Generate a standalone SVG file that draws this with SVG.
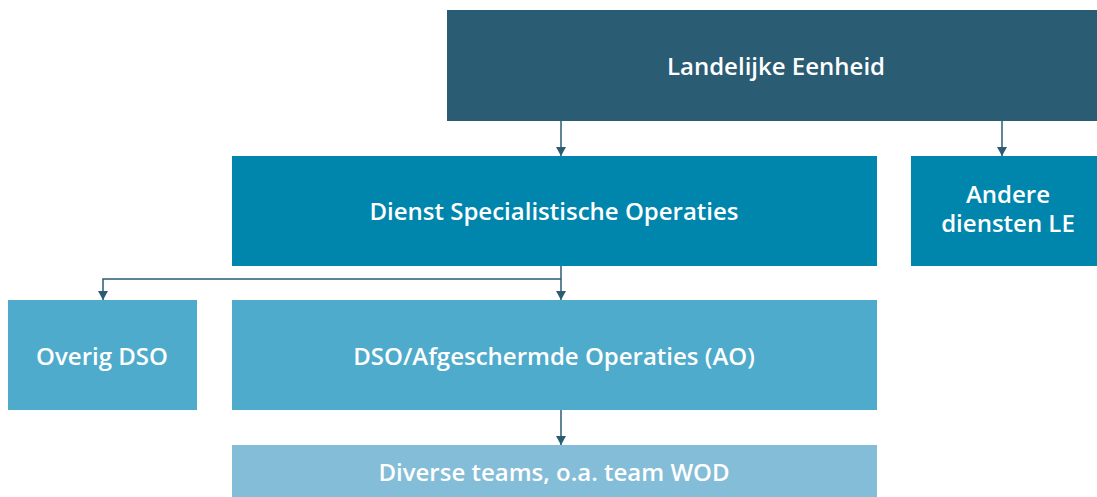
<svg xmlns="http://www.w3.org/2000/svg" width="1097" height="497" viewBox="0 0 1097 497">
<defs>
<marker id="ah" markerWidth="10" markerHeight="10" refX="9" refY="5" orient="auto" markerUnits="userSpaceOnUse" viewBox="0 0 10 10">
<path d="M0,0 L9,5 L0,10 Z" fill="#2a5c74"/>
</marker>
</defs>
<style>
text{font-family:"Open Sans","Noto Sans",sans-serif;font-weight:600;font-size:24px;fill:#ffffff;text-anchor:middle;dominant-baseline:central}
.c{stroke:#2a5c74;stroke-width:1.5;fill:none}
</style>
<rect width="1097" height="497" fill="#ffffff"/>
<g id="le"><rect x="447" y="10" width="650" height="111" fill="#2a5c74"/><text x="776" y="65">Landelijke Eenheid</text></g>
<g id="dso"><rect x="232" y="156" width="645" height="110" fill="#0086ad"/><text x="554" y="210">Dienst Specialistische Operaties</text></g>
<g id="andere"><rect x="911" y="156" width="186" height="110" fill="#0086ad"/><text x="1008" y="193">Andere</text><text x="1008" y="222">diensten LE</text></g>
<g id="overig"><rect x="8" y="300" width="189" height="110" fill="#4eabcb"/><text x="102" y="355">Overig DSO</text></g>
<g id="ao"><rect x="232" y="300" width="645" height="110" fill="#4eabcb"/><text x="554" y="355">DSO/Afgeschermde Operaties (AO)</text></g>
<g id="diverse"><rect x="232" y="445" width="645" height="52" fill="#84bdd7"/><text x="554" y="471">Diverse teams, o.a. team WOD</text></g>
<g id="connectors">
<path class="c" d="M561,121 V156" marker-end="url(#ah)"/>
<path class="c" d="M1002,121 V156" marker-end="url(#ah)"/>
<path class="c" d="M561,266 V300" marker-end="url(#ah)"/>
<path class="c" d="M561,279 H103 V300" marker-end="url(#ah)"/>
<path class="c" d="M561,410 V445" marker-end="url(#ah)"/>
</g>
</svg>
